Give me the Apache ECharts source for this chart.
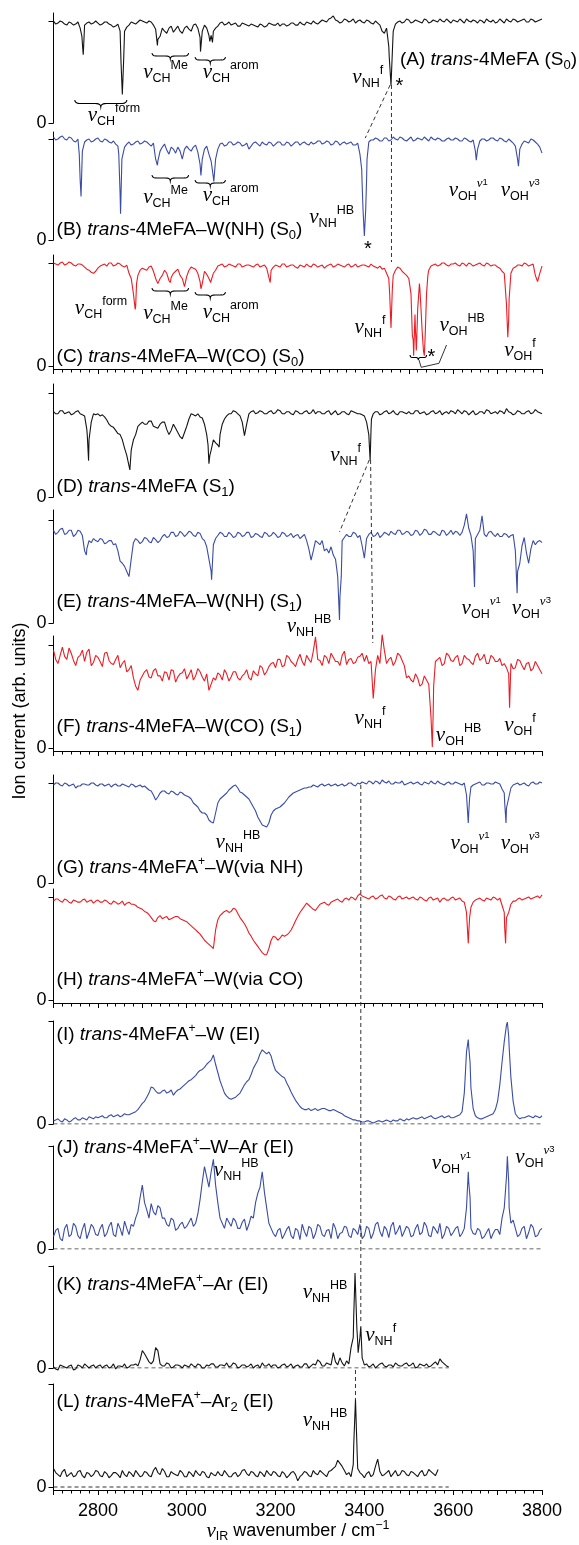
<!DOCTYPE html>
<html><head><meta charset="utf-8">
<script src="https://cdn.jsdelivr.net/npm/echarts@6/dist/echarts.min.js"></script>
<style>html,body{margin:0;padding:0;background:#fff}#c{width:579px;height:1545px}</style>
</head><body><div id="c"></div>
<script>
// ---------- data: *Sig at 2700 + i*10 cm-1, *Mid at 2705 + i*10 cm-1, *Extra = [wn, value] ----------
const WN0 = 2700, STEP = 10;
const xTickLabels = [2800, 3000, 3200, 3400, 3600, 3800];

const aSig = [1.0,0.98,0.99,0.96,0.98,0.97,0.93,0.96,0.99,0.98,
0.98,0.97,0.99,0.96,0.95,0.9,0.9,0.96,0.98,0.99,
1.0,0.98,0.99,0.92,0.85,0.9,0.93,0.89,0.95,0.88,
0.95,0.9,0.97,0.84,0.96,0.86,0.9,0.95,0.99,0.97,
0.96,0.98,0.95,0.97,0.95,0.96,0.94,0.96,0.95,0.97,
0.96,0.95,0.97,0.96,0.98,0.96,0.97,0.99,0.97,0.98,
0.99,1.0,1.02,1.05,1.0,0.99,1.01,1.0,0.98,1.01,
0.98,1.0,0.97,0.98,0.9,0.93,0.37,0.97,1.0,0.99,
1.01,0.99,1.0,0.98,1.01,0.99,1.0,1.02,0.99,1.0,
1.01,0.99,1.0,1.02,0.99,1.0,1.01,0.98,1.0,1.01,
0.99,1.0,1.02,0.99,1.01,1.0,1.02,0.99,1.01,1.0,
1.02];
const aMid = [0.97,1.0,0.97,0.99,0.96,0.99,0.78,0.98,0.97,1.0,
0.96,0.99,0.97,0.94,0.97,0.28,0.94,0.99,0.97,1.01,
0.99,1.0,0.96,0.82,0.93,0.88,0.95,0.92,0.9,0.93,
0.92,0.96,0.93,0.9,0.93,0.86,0.93,0.98,0.96,0.99,
0.97,0.95,0.98,0.96,0.97,0.95,0.97,0.94,0.98,0.96,
0.98,0.97,0.95,0.98,0.96,0.99,0.96,0.98,1.0,0.97,
1.01,0.99,1.03,1.01,0.98,1.02,0.99,1.02,1.0,0.99,
1.01,0.98,1.0,0.96,0.88,0.75,0.9,0.99,0.98,1.02,
0.98,1.01,0.99,1.02,0.98,1.01,0.99,1.0,1.02,0.98,
1.0,1.02,0.98,1.0,1.01,0.98,1.0,1.02,0.99,0.98,
1.02,0.98,1.0,1.02,0.99,1.01,0.99,1.02,0.99,1.01];
const aExtra = [[2764,0.85],[2767,0.67],[2769,0.86],[2852,0.6],[2855,0.28],[2858,0.62],[2934,0.76],[3031,0.7],[3052,0.8],[3058,0.79],[3456,0.65],[3464,0.8]];

const bSig = [1.02,1.0,1.03,0.99,1.01,0.97,0.6,0.97,1.0,0.98,
1.01,0.97,0.99,0.96,0.95,0.45,0.92,0.97,0.95,0.98,
0.96,0.97,0.93,0.8,0.88,0.95,0.85,0.9,0.92,0.8,
0.93,0.88,0.94,0.75,0.9,0.85,0.62,0.9,0.96,0.94,
0.97,0.95,0.96,0.94,0.9,0.96,0.95,0.97,0.94,0.96,
0.95,0.97,0.94,0.96,0.95,0.97,0.96,0.95,0.97,0.96,
0.98,0.96,0.97,0.95,0.97,0.96,0.95,0.97,0.94,0.85,
0.04,0.97,0.99,1.0,0.98,1.01,0.99,1.0,1.02,0.99,
1.0,0.98,1.01,0.99,1.0,1.02,0.99,1.0,0.98,1.01,
0.99,1.0,0.98,1.0,0.97,0.88,0.98,1.0,0.99,1.01,
0.98,1.0,0.97,0.98,0.93,0.9,0.98,0.96,0.99,0.95,
0.86];
const bMid = [0.99,1.02,1.0,1.02,0.98,1.0,0.88,0.99,0.97,1.0,
0.98,1.0,0.97,0.98,0.93,0.8,0.95,0.94,0.97,0.95,
0.98,0.95,0.96,0.78,0.92,0.89,0.92,0.86,0.88,0.9,
0.9,0.92,0.87,0.8,0.93,0.78,0.8,0.95,0.93,0.97,
0.94,0.97,0.93,0.96,0.93,0.97,0.93,0.95,0.97,0.93,
0.97,0.94,0.97,0.93,0.97,0.94,0.97,0.94,0.95,0.98,
0.95,0.98,0.94,0.98,0.94,0.97,0.96,0.94,0.96,0.55,
0.6,0.99,1.01,0.98,1.01,0.98,1.02,0.99,1.01,0.98,
1.02,0.99,1.0,1.02,0.98,1.0,1.01,0.98,1.0,0.99,
1.01,0.98,1.01,0.98,0.99,0.9,1.0,0.98,1.01,0.99,
1.01,0.98,1.0,0.96,0.8,0.95,0.97,1.0,0.97,0.92];
const bExtra = [[2758,0.85],[2762,0.43],[2765,0.88],[2847,0.85],[2851,0.26],[2854,0.8],[2934,0.74],[3032,0.64],[3061,0.58],[3394,0.7],[3397,0.3],[3403,0.3],[3406,0.8],[3652,0.79],[3747,0.73]];

const cSig = [1.0,0.98,1.01,0.99,1.0,0.97,0.99,0.96,0.93,0.9,
0.95,0.98,0.97,1.0,0.98,0.99,0.96,0.9,0.7,0.88,
0.95,0.93,0.97,0.85,0.85,0.93,0.83,0.9,0.94,0.85,
0.87,0.96,0.94,0.82,0.92,0.85,0.9,0.97,0.99,0.97,
0.98,0.96,0.99,0.97,0.98,0.96,0.99,0.97,0.95,0.93,
0.98,0.96,0.99,0.97,0.98,0.95,0.97,0.99,0.96,0.98,
0.97,0.95,0.98,0.96,0.99,0.97,0.98,0.96,0.99,0.97,
0.98,0.96,0.97,0.95,0.94,0.9,0.37,0.93,0.95,0.9,
0.85,0.25,0.55,0.35,0.7,0.97,0.99,0.98,1.0,0.97,
0.99,0.98,1.0,0.97,0.99,0.98,1.0,0.97,0.99,0.98,
0.96,0.92,0.6,0.9,0.96,0.98,1.0,0.97,0.99,0.82,
0.97];
const cMid = [0.99,1.0,0.98,1.01,0.98,0.99,0.98,0.94,0.91,0.92,
0.97,0.99,1.0,0.97,1.0,0.97,0.98,0.85,0.58,0.93,
0.94,0.96,0.92,0.8,0.88,0.9,0.86,0.92,0.88,0.77,
0.93,0.95,0.9,0.8,0.89,0.83,0.93,0.98,0.96,0.99,
0.97,0.99,0.96,0.98,0.97,0.98,0.96,0.98,0.86,0.96,
0.97,0.99,0.96,0.98,0.96,0.98,0.96,0.97,0.99,0.96,
0.98,0.97,0.99,0.97,0.98,0.96,0.99,0.97,0.96,0.98,
0.97,0.99,0.96,0.97,0.95,0.85,0.88,0.96,0.92,0.88,
0.7,0.35,0.75,0.1,0.93,0.98,0.97,1.0,0.98,0.99,
1.0,0.97,0.99,1.0,0.97,0.99,0.98,1.0,0.97,0.98,
0.95,0.9,0.45,0.95,0.98,0.97,0.99,0.98,0.88,0.9];
const cExtra = [[2884,0.55],[2887,0.8],[2937,0.79],[2963,0.81],[3032,0.75],[3054,0.81],[3188,0.81],[3457,0.7],[3463,0.75],[3508,0.3],[3511,0.1],[3514,0.5],[3517,0.15],[3519,0.4],[3524,0.8],[3527,0.6],[3533,0.15],[3537,0.3],[3543,0.88],[3723,0.28],[3726,0.65]];

const dSig = [0.82,0.8,0.83,0.81,0.79,0.82,0.8,0.78,0.55,0.8,
0.8,0.79,0.74,0.68,0.64,0.6,0.47,0.3,0.55,0.68,
0.72,0.7,0.73,0.67,0.7,0.72,0.6,0.7,0.62,0.56,
0.68,0.8,0.78,0.77,0.7,0.32,0.55,0.5,0.7,0.78,
0.8,0.82,0.78,0.59,0.8,0.83,0.81,0.82,0.8,0.83,
0.81,0.83,0.8,0.82,0.79,0.82,0.8,0.83,0.81,0.8,
0.82,0.8,0.83,0.81,0.79,0.82,0.8,0.83,0.81,0.8,
0.78,0.6,0.8,0.82,0.8,0.83,0.81,0.8,0.82,0.81,
0.82,0.8,0.83,0.81,0.79,0.82,0.8,0.83,0.81,0.8,
0.82,0.84,0.8,0.82,0.81,0.79,0.82,0.8,0.83,0.81,
0.8,0.82,0.85,0.81,0.8,0.82,0.8,0.83,0.81,0.82,
0.8];
const dMid = [0.8,0.83,0.8,0.82,0.8,0.83,0.79,0.65,0.72,0.79,
0.78,0.77,0.7,0.67,0.61,0.55,0.4,0.45,0.6,0.7,
0.7,0.73,0.68,0.66,0.72,0.65,0.64,0.66,0.58,0.62,
0.75,0.79,0.8,0.76,0.6,0.45,0.52,0.6,0.75,0.8,
0.83,0.8,0.72,0.7,0.82,0.8,0.83,0.8,0.82,0.8,
0.84,0.8,0.82,0.8,0.83,0.8,0.82,0.8,0.84,0.82,
0.8,0.82,0.79,0.83,0.8,0.82,0.79,0.82,0.8,0.79,
0.72,0.65,0.82,0.79,0.82,0.8,0.83,0.79,0.82,0.8,
0.8,0.83,0.8,0.82,0.8,0.83,0.81,0.79,0.82,0.83,
0.8,0.82,0.83,0.79,0.83,0.8,0.82,0.84,0.8,0.82,
0.83,0.8,0.82,0.79,0.83,0.8,0.82,0.8,0.84,0.81];
const dExtra = [[2776,0.6],[2779,0.35],[2872,0.26],[3048,0.5],[3052,0.4],[3073,0.48],[3413,0.35],[3416,0.75]];

const eSig = [0.9,0.88,0.92,0.87,0.9,0.86,0.89,0.7,0.8,0.82,
0.79,0.81,0.78,0.8,0.77,0.6,0.55,0.45,0.78,0.8,
0.79,0.82,0.78,0.81,0.8,0.86,0.84,0.88,0.85,0.87,
0.86,0.88,0.84,0.87,0.8,0.62,0.76,0.85,0.87,0.84,
0.86,0.84,0.87,0.85,0.88,0.84,0.86,0.83,0.87,0.85,
0.86,0.84,0.87,0.85,0.83,0.86,0.84,0.8,0.61,0.8,
0.76,0.7,0.68,0.66,0.45,0.8,0.86,0.84,0.87,0.85,
0.63,0.86,0.84,0.88,0.85,0.87,0.89,0.86,0.9,0.87,
0.88,0.86,0.89,0.87,0.9,0.86,0.88,0.85,0.89,0.87,
0.86,0.88,0.88,1.06,0.85,0.82,0.9,0.86,0.88,0.86,
0.87,0.84,0.86,0.85,0.7,0.58,0.83,0.58,0.8,0.79,
0.78];
const eMid = [0.86,0.91,0.86,0.9,0.84,0.9,0.85,0.72,0.78,0.8,
0.82,0.77,0.8,0.76,0.7,0.58,0.5,0.62,0.82,0.77,
0.83,0.79,0.83,0.78,0.84,0.83,0.88,0.84,0.89,0.84,
0.89,0.85,0.88,0.82,0.74,0.5,0.82,0.88,0.84,0.88,
0.83,0.88,0.84,0.88,0.83,0.87,0.84,0.88,0.84,0.88,
0.83,0.88,0.84,0.87,0.85,0.82,0.86,0.72,0.7,0.78,
0.8,0.72,0.74,0.62,0.25,0.83,0.84,0.88,0.83,0.75,
0.82,0.88,0.85,0.83,0.88,0.85,0.87,0.9,0.86,0.89,
0.85,0.9,0.85,0.91,0.86,0.89,0.86,0.9,0.85,0.9,
0.89,0.85,0.95,0.92,0.7,0.86,1.04,0.84,0.89,0.84,
0.84,0.87,0.83,0.86,0.5,0.75,0.68,0.72,0.76,0.8];
const eExtra = [[2774,0.66],[3056,0.42],[3344,0.03],[3348,0.45],[3648,0.35],[3744,0.29]];

const fSig = [0.95,0.82,0.98,0.86,0.92,0.8,0.9,0.84,0.96,0.83,
0.88,0.79,0.93,0.82,0.86,0.78,0.85,0.76,0.68,0.56,
0.7,0.76,0.68,0.77,0.7,0.74,0.66,0.75,0.69,0.73,
0.67,0.76,0.7,0.74,0.65,0.56,0.68,0.73,0.66,0.72,
0.69,0.74,0.66,0.72,0.68,0.75,0.7,0.78,0.74,0.82,
0.78,0.86,0.8,0.88,0.82,0.86,0.84,0.9,0.83,1.08,
0.85,0.9,0.82,0.88,0.84,0.9,0.81,0.87,0.83,0.89,
0.84,0.82,0.48,0.9,1.1,0.82,0.88,0.84,0.9,0.8,
0.7,0.64,0.68,0.62,0.66,0.3,0.84,0.88,0.82,0.9,
0.84,0.9,0.82,0.87,0.83,0.89,0.85,0.91,0.82,0.88,
0.84,0.8,0.78,0.82,0.78,0.85,0.76,0.83,0.77,0.8,
0.72];
const fMid = [0.86,0.9,0.89,0.97,0.85,0.88,0.95,0.93,0.8,0.9,
0.84,0.92,0.85,0.81,0.9,0.82,0.74,0.8,0.6,0.66,
0.74,0.69,0.75,0.7,0.65,0.73,0.76,0.64,0.72,0.77,
0.71,0.66,0.77,0.69,0.72,0.62,0.66,0.71,0.76,0.65,
0.74,0.68,0.7,0.76,0.66,0.72,0.8,0.71,0.79,0.83,
0.86,0.79,0.9,0.84,0.79,0.91,0.8,0.86,0.94,0.86,
0.8,0.88,0.92,0.84,0.8,0.94,0.86,0.82,0.88,0.92,
0.9,0.84,0.76,0.82,0.95,0.86,0.8,0.92,0.85,0.68,
0.66,0.72,0.6,0.7,0.62,0.35,0.86,0.8,0.92,0.85,
0.88,0.8,0.9,0.86,0.81,0.92,0.87,0.82,0.9,0.84,
0.87,0.82,0.72,0.77,0.86,0.8,0.82,0.75,0.84,0.76];
const fExtra = [[3553,0.01],[3556,0.6],[3727,0.39]];

const gSig = [0.98,1.0,0.97,0.99,0.98,0.95,0.97,0.99,0.98,1.0,
0.97,0.99,0.98,0.96,0.99,0.97,0.98,0.96,0.98,0.97,
0.96,0.95,0.92,0.83,0.9,0.92,0.89,0.91,0.88,0.9,
0.87,0.84,0.78,0.72,0.7,0.63,0.6,0.8,0.86,0.9,
0.95,0.98,0.91,0.88,0.84,0.76,0.66,0.58,0.56,0.68,
0.74,0.76,0.8,0.86,0.9,0.92,0.94,0.95,0.96,0.97,
0.98,0.97,0.99,0.98,0.97,0.99,0.98,1.0,0.97,0.99,
1.0,1.02,0.99,1.01,1.03,1.0,0.99,1.01,1.0,0.98,
1.0,0.99,1.01,0.98,1.0,1.02,0.99,1.0,0.98,1.01,
0.99,1.0,0.98,0.88,0.96,0.99,1.01,0.98,1.0,0.99,
1.0,0.94,0.75,0.95,0.99,0.98,1.0,0.97,1.01,0.99,
1.0];
const gMid = [1.0,0.98,1.0,0.97,0.99,0.97,0.99,0.98,1.0,0.98,
0.99,0.97,0.99,0.98,0.97,0.99,0.97,0.99,0.96,0.98,
0.97,0.93,0.88,0.86,0.92,0.9,0.92,0.89,0.91,0.88,
0.86,0.8,0.76,0.7,0.68,0.61,0.7,0.84,0.88,0.93,
0.97,0.95,0.9,0.86,0.8,0.72,0.62,0.57,0.6,0.72,
0.75,0.78,0.83,0.88,0.91,0.93,0.95,0.96,0.98,0.96,
0.99,0.98,0.97,0.99,0.98,0.97,1.0,0.98,1.0,1.01,
0.99,1.01,1.02,0.99,1.01,1.02,0.99,1.0,1.02,0.99,
1.01,1.0,0.99,1.01,0.99,1.0,1.02,0.99,1.0,0.99,
1.01,0.99,1.0,0.7,0.98,1.0,0.98,1.0,0.99,1.01,
0.99,0.9,0.85,0.98,1.0,0.99,0.98,1.0,0.99,1.01];
const gExtra = [[3634,0.6],[3637,0.85],[3716,0.8],[3719,0.6]];

const hSig = [0.96,0.98,0.95,0.97,0.94,0.96,0.95,0.98,0.96,0.94,
0.97,0.95,0.96,0.93,0.95,0.94,0.92,0.95,0.93,0.9,
0.88,0.85,0.8,0.76,0.82,0.8,0.78,0.8,0.81,0.78,
0.76,0.72,0.68,0.64,0.58,0.54,0.5,0.78,0.84,0.87,
0.86,0.88,0.8,0.74,0.65,0.58,0.52,0.46,0.44,0.58,
0.61,0.6,0.62,0.65,0.72,0.81,0.88,0.94,0.9,0.87,
0.93,0.95,0.92,0.96,0.98,0.95,0.99,1.0,0.97,1.03,
1.0,0.98,1.01,0.99,1.02,0.98,1.0,0.97,1.01,0.99,
0.98,1.0,0.97,0.99,0.96,1.0,0.98,0.95,0.99,0.97,
1.0,0.98,0.96,0.85,0.9,0.97,0.99,0.96,0.98,1.0,
0.97,0.92,0.8,0.93,0.96,0.99,0.98,1.0,0.99,1.01,
1.02];
const hMid = [0.98,0.96,0.98,0.95,0.97,0.95,0.97,0.95,0.97,0.96,
0.95,0.97,0.94,0.96,0.93,0.96,0.94,0.93,0.92,0.89,
0.86,0.83,0.77,0.8,0.79,0.81,0.79,0.81,0.79,0.77,
0.74,0.7,0.66,0.61,0.56,0.52,0.68,0.82,0.86,0.85,
0.89,0.84,0.77,0.7,0.62,0.55,0.49,0.44,0.5,0.62,
0.58,0.63,0.63,0.68,0.77,0.85,0.91,0.92,0.88,0.9,
0.94,0.93,0.95,0.97,0.96,0.98,0.97,0.99,1.01,1.01,
0.99,1.0,0.98,1.01,0.99,1.01,0.98,1.0,0.98,1.0,
0.99,0.98,1.0,0.97,0.99,0.97,0.99,0.98,0.97,0.99,
0.97,0.99,0.95,0.65,0.95,0.98,0.97,0.99,0.97,0.99,
0.99,0.85,0.85,0.96,0.98,0.97,0.99,0.98,1.0,0.99];
const hExtra = [[3634,0.55],[3637,0.8],[3716,0.7],[3718,0.55]];

const iSig = [0.03,0.05,0.02,0.04,0.03,0.06,0.04,0.05,0.07,0.05,
0.06,0.08,0.06,0.09,0.08,0.07,0.1,0.09,0.11,0.14,
0.2,0.26,0.36,0.32,0.3,0.33,0.31,0.28,0.33,0.36,
0.4,0.43,0.47,0.52,0.55,0.6,0.67,0.5,0.36,0.27,
0.24,0.26,0.3,0.38,0.43,0.54,0.62,0.72,0.68,0.66,
0.52,0.48,0.45,0.36,0.27,0.2,0.15,0.14,0.13,0.15,
0.14,0.15,0.13,0.14,0.12,0.1,0.07,0.05,0.04,0.03,
0.02,0.03,0.01,0.03,0.02,0.04,0.02,0.03,0.05,0.03,
0.04,0.06,0.05,0.07,0.06,0.08,0.05,0.07,0.06,0.08,
0.06,0.08,0.12,0.7,0.35,0.08,0.05,0.06,0.08,0.1,
0.22,0.6,0.96,0.45,0.1,0.05,0.06,0.08,0.06,0.07,
0.08];
const iMid = [0.04,0.03,0.05,0.02,0.05,0.04,0.06,0.04,0.06,0.07,
0.07,0.06,0.08,0.07,0.09,0.08,0.09,0.1,0.12,0.17,
0.22,0.3,0.35,0.3,0.32,0.3,0.33,0.31,0.34,0.38,
0.42,0.45,0.5,0.53,0.58,0.62,0.58,0.42,0.3,0.25,
0.25,0.28,0.34,0.41,0.48,0.58,0.68,0.7,0.7,0.58,
0.5,0.46,0.4,0.31,0.23,0.17,0.14,0.15,0.14,0.13,
0.15,0.14,0.13,0.13,0.11,0.08,0.06,0.04,0.03,0.02,
0.03,0.02,0.02,0.03,0.03,0.03,0.04,0.03,0.04,0.05,
0.05,0.05,0.06,0.05,0.07,0.06,0.06,0.08,0.07,0.06,
0.07,0.09,0.3,0.75,0.15,0.06,0.05,0.07,0.09,0.14,
0.38,0.8,0.85,0.22,0.07,0.06,0.07,0.07,0.08,0.06];
const iExtra = [[3627,0.45],[3634,0.82],[3638,0.6],[3722,0.99],[3726,0.75]];

const jSig = [0.12,0.2,0.08,0.24,0.14,0.22,0.1,0.25,0.16,0.21,
0.13,0.24,0.15,0.26,0.12,0.2,0.27,0.14,0.22,0.36,
0.62,0.38,0.44,0.33,0.4,0.3,0.22,0.28,0.2,0.26,
0.22,0.3,0.25,0.48,0.8,0.6,0.87,0.45,0.25,0.3,
0.22,0.27,0.2,0.29,0.24,0.3,0.54,0.75,0.4,0.2,
0.12,0.2,0.14,0.22,0.1,0.18,0.24,0.12,0.2,0.15,
0.22,0.12,0.19,0.25,0.1,0.16,0.21,0.11,0.18,0.24,
0.13,0.2,0.15,0.26,0.12,0.19,0.22,0.14,0.23,0.17,
0.2,0.13,0.24,0.16,0.22,0.12,0.19,0.25,0.14,0.2,
0.16,0.22,0.15,0.4,0.2,0.14,0.18,0.12,0.2,0.15,
0.19,0.3,0.7,0.25,0.2,0.14,0.22,0.16,0.21,0.13,
0.2];
const jMid = [0.18,0.1,0.2,0.12,0.25,0.13,0.19,0.1,0.24,0.14,
0.2,0.12,0.22,0.14,0.25,0.13,0.2,0.24,0.3,0.5,
0.45,0.3,0.36,0.42,0.3,0.24,0.3,0.18,0.24,0.2,
0.26,0.22,0.34,0.65,0.7,0.75,0.62,0.3,0.2,0.26,
0.3,0.2,0.26,0.18,0.32,0.45,0.6,0.55,0.25,0.15,
0.18,0.1,0.19,0.13,0.2,0.09,0.17,0.22,0.1,0.24,
0.14,0.18,0.1,0.2,0.15,0.22,0.13,0.2,0.14,0.1,
0.22,0.1,0.24,0.17,0.22,0.11,0.26,0.18,0.12,0.22,
0.12,0.2,0.14,0.26,0.13,0.22,0.15,0.1,0.22,0.13,
0.2,0.12,0.2,0.65,0.15,0.2,0.1,0.16,0.1,0.19,
0.14,0.4,0.65,0.28,0.12,0.2,0.1,0.24,0.12,0.18];
const jExtra = [[3634,0.75],[3638,0.5],[3722,0.9],[3726,0.4]];

const kSig = [0.01,-0.02,0.02,0.0,0.03,-0.01,0.02,0.04,0.0,0.03,
0.02,0.0,0.03,0.01,-0.01,0.02,0.04,0.01,0.03,0.02,
0.17,0.1,0.04,0.2,0.04,0.02,0.04,0.01,0.03,0.0,
0.02,0.04,0.01,0.03,0.0,0.02,0.04,0.01,0.03,0.05,
0.02,0.04,0.01,0.03,0.02,0.0,0.03,0.05,0.02,0.01,
0.03,0.01,0.04,0.02,0.0,0.03,0.01,0.04,0.02,0.03,
0.06,0.02,0.04,0.15,0.03,0.05,0.07,0.2,0.8,0.3,
0.03,0.01,0.04,0.02,0.05,0.01,0.03,0.05,0.02,0.04,
0.02,0.05,0.01,0.03,0.04,0.02,0.06,0.09,0.04,0.01];
const kMid = [-0.01,0.03,0.01,0.02,-0.02,0.03,0.0,0.02,0.02,0.0,
0.03,0.02,0.0,0.04,0.02,0.01,0.0,0.03,0.04,0.08,
0.14,0.06,0.07,0.17,0.02,0.05,0.0,0.03,0.02,0.03,
0.01,0.02,0.04,0.0,0.03,0.04,0.01,0.03,0.02,0.01,
0.05,0.0,0.03,0.01,0.04,0.02,0.0,0.02,0.04,0.03,
0.0,0.03,0.01,0.04,0.02,0.01,0.04,0.0,0.04,0.08,
0.02,0.05,0.03,0.06,0.1,0.02,0.04,0.3,0.25,0.1,
0.04,0.02,0.0,0.04,0.02,0.03,0.01,0.03,0.02,0.05,
0.03,0.0,0.04,0.02,0.01,0.04,0.03,0.06,0.02];
const kExtra = [[3376,0.5],[3379,0.93],[3383,0.4],[3386,0.15],[3392,0.41]];

const lSig = [0.18,0.12,0.15,0.1,0.14,0.11,0.16,0.09,0.13,0.12,
0.15,0.1,0.13,0.11,0.14,0.09,0.12,0.15,0.1,0.13,
0.11,0.14,0.1,0.19,0.12,0.15,0.1,0.13,0.11,0.14,
0.1,0.13,0.16,0.11,0.14,0.09,0.12,0.15,0.11,0.13,
0.1,0.14,0.12,0.17,0.11,0.14,0.1,0.13,0.16,0.11,
0.14,0.1,0.13,0.11,0.15,0.06,0.12,0.14,0.1,0.13,
0.16,0.12,0.15,0.18,0.26,0.2,0.12,0.1,0.85,0.14,
0.09,0.15,0.12,0.27,0.11,0.14,0.1,0.16,0.12,0.15,
0.11,0.14,0.1,0.16,0.12,0.15,0.11];
const lMid = [0.14,0.1,0.17,0.12,0.1,0.15,0.11,0.14,0.1,0.16,
0.11,0.15,0.09,0.14,0.12,0.16,0.1,0.13,0.16,0.1,
0.15,0.11,0.16,0.14,0.18,0.1,0.15,0.12,0.16,0.1,
0.15,0.1,0.13,0.15,0.1,0.14,0.11,0.12,0.16,0.1,
0.13,0.1,0.16,0.13,0.15,0.11,0.15,0.1,0.13,0.15,
0.11,0.15,0.09,0.14,0.12,0.1,0.15,0.11,0.16,0.12,
0.14,0.1,0.16,0.2,0.23,0.16,0.14,0.22,0.18,0.12,
0.13,0.1,0.2,0.15,0.12,0.16,0.13,0.11,0.16,0.12,
0.15,0.12,0.14,0.11,0.17,0.13];
const lExtra = [[3376,0.4],[3384,0.3],[3566,0.17]];

// dashed zero reference lines [panel, start, end]
const zeroDash = [[8,2700,3800],[9,2700,3800],[10,2700,3590],[11,2700,3590]];

// ---------- layout (pixels) ----------
const layout = [
 {top:13, tick:21, zero:123},
 {top:132, tick:139, zero:240},
 {top:255, tick:263, zero:366, axis:369},
 {top:384, tick:393, zero:497},
 {top:510, tick:520, zero:623},
 {top:636, tick:645, zero:748, axis:751},
 {top:775, tick:783, zero:883},
 {top:889, tick:897, zero:1000, axis:1003},
 {top:1021, tick:1021, zero:1124},
 {top:1146, tick:1146, zero:1249},
 {top:1266, tick:1266, zero:1368},
 {top:1384, tick:1384, zero:1487, axis:1490}
];
const K = '#141414', B = '#3a4ca6', Rd = '#ec1c24';
const panels = [
 [aSig,aMid,aExtra,K],[bSig,bMid,bExtra,B],[cSig,cMid,cExtra,Rd],[dSig,dMid,dExtra,K],
 [eSig,eMid,eExtra,B],[fSig,fMid,fExtra,Rd],[gSig,gMid,gExtra,B],[hSig,hMid,hExtra,Rd],
 [iSig,iMid,iExtra,B],[jSig,jMid,jExtra,B],[kSig,kMid,kExtra,K],[lSig,lMid,lExtra,K]
];
const FF = '"Liberation Sans", Arial, sans-serif';
function build(vals, mids, extra){
  return vals.map((v,i)=>[WN0+i*STEP, v])
    .concat(mids.map((v,i)=>[WN0+STEP/2+i*STEP, v]))
    .concat(extra).sort((a,b)=>a[0]-b[0]);
}

const grids=[], xAxes=[], yAxes=[], series=[];
layout.forEach((l,i)=>{
  const unit = l.zero - l.tick > 0 ? l.zero - l.tick : l.zero - l.top;
  const bottomPx = l.axis || l.zero;
  grids.push({left:53.5, right:37, top:l.top, height:bottomPx-l.top});
  const hasAxis = !!l.axis;
  xAxes.push({type:'value', gridIndex:i, min:2700, max:3800, interval:100, show:hasAxis,
    axisLine:{show:true, onZero:false, lineStyle:{color:'#000', width:1}},
    axisTick:{show:true, length:5, lineStyle:{color:'#000', width:1}},
    minorTick:{show:true, splitNumber:5, length:3.5, lineStyle:{color:'#000', width:1}},
    splitLine:{show:false},
    axisLabel:{show:i===11, fontSize:18, color:'#000', fontFamily:FF, margin:12,
      formatter:v=> xTickLabels.indexOf(v)>=0 ? String(v) : ''}
  });
  yAxes.push({type:'value', gridIndex:i, min: hasAxis ? -(l.axis-l.zero)/unit : 0,
    max:(l.zero-l.top)/unit,
    axisLine:{show:true, onZero:false, lineStyle:{color:'#000', width:1}},
    axisTick:{show:true, length:5, customValues:[0,1], lineStyle:{color:'#000', width:1}},
    axisLabel:{show:true, customValues:[0], fontSize:18, color:'#000', fontFamily:FF, margin:7, formatter:'{value}'},
    splitLine:{show:false}
  });
  const p = panels[i];
  series.push({type:'line', xAxisIndex:i, yAxisIndex:i, data:build(p[0],p[1],p[2]), symbol:'none',
    lineStyle:{color:p[3], width:1.1}, clip:false, z:3});
});
zeroDash.forEach(([p,s,e])=>{
  series.push({type:'line', xAxisIndex:p, yAxisIndex:p, data:[[s,0],[e,0]], symbol:'none',
    lineStyle:{color:'#333', width:1, type:[4,3]}, z:2});
});

const chart = echarts.init(document.getElementById('c'));
chart.setOption({animation:false, backgroundColor:'#fff', grid:grids, xAxis:xAxes, yAxis:yAxes, series:series});

// ---------- annotations ----------
const RICH = {
  t:{fontSize:19, fontFamily:FF, lineHeight:24, verticalAlign:'middle', color:'#000'},
  it:{fontSize:19, fontFamily:FF, fontStyle:'italic', lineHeight:24, verticalAlign:'middle', color:'#000'},
  sub:{fontSize:13, fontFamily:FF, lineHeight:13, verticalAlign:'bottom', color:'#000'},
  sup:{fontSize:12, fontFamily:FF, lineHeight:12, verticalAlign:'top', color:'#000'},
  nu:{fontSize:21, fontFamily:'"Liberation Serif", serif', fontStyle:'italic', lineHeight:26, verticalAlign:'middle', color:'#000'},
  ls:{fontSize:12.5, fontFamily:FF, lineHeight:12, verticalAlign:'bottom', color:'#000'},
  lp:{fontSize:12.5, fontFamily:FF, lineHeight:12, verticalAlign:'top', color:'#000'},
  lpn:{fontSize:13, fontFamily:'"Liberation Serif", serif', fontStyle:'italic', lineHeight:13, verticalAlign:'top', color:'#000'},
  lpd:{fontSize:9.5, fontFamily:FF, lineHeight:17, verticalAlign:'top', color:'#000'},
  ast:{fontSize:20, fontFamily:FF, lineHeight:22, verticalAlign:'middle', color:'#000'},
  ax:{fontSize:18, fontFamily:FF, lineHeight:24, verticalAlign:'middle', color:'#000'},
  axnu:{fontSize:21, fontFamily:'"Liberation Serif", serif', fontStyle:'italic', lineHeight:24, verticalAlign:'middle', color:'#000'},
  axsub:{fontSize:12.5, fontFamily:FF, lineHeight:12, verticalAlign:'bottom', color:'#000'},
  axsup:{fontSize:12.5, fontFamily:FF, lineHeight:12, verticalAlign:'top', color:'#000'}
};
const nuL = (s,p)=>`{nu|ν}{ls|${s}}{lp|${p}}`;
const nuV = (s,d)=>`{nu|ν}{ls|${s}}{lpn|ν}{lpd|${d}}`;
const T0 = (L,mid,st)=>`{t|(${L}) }{it|trans}{t|-4MeFA${mid} (S}{sub|${st}}{t|)}`;
const TP = (L,rest,sub,tail)=>`{t|(${L}) }{it|trans}{t|-4MeFA}{sup|+}{t|${rest}}`+(sub?`{sub|${sub}}`:'')+(tail?`{t|${tail}}`:'');

const labels = [
 [0,2777,8,nuL('CH','form')],[0,2902,51,nuL('CH','Me')],[0,3036,51,nuL('CH','arom')],[0,3373,46,nuL('NH','f')],
 [0,3480,63,T0('A','','0')],
 [1,2902,43,nuL('CH','Me')],[1,3036,45,nuL('CH','arom')],[1,3276,23,nuL('NH','HB')],
 [1,3590,50,nuV('OH','1')],[1,3707,50,nuV('OH','3')],[1,2707,10,T0('B','–W(NH)','0')],
 [2,2748,58,nuL('CH','form')],[2,2902,53,nuL('CH','Me')],[2,3036,54,nuL('CH','arom')],[2,3378,39,nuL('NH','f')],
 [2,3569,41,nuL('OH','HB')],[2,3715,16,nuL('OH','f')],[2,2707,9,T0('C','–W(CO)','0')],
 [3,3323,42,nuL('NH','f')],[3,2707,10,T0('D','','1')],
 [4,2707,21,T0('E','–W(NH)','1')],[4,3225,-3,nuL('NH','HB')],[4,3619,15,nuV('OH','1')],[4,3732,15,nuV('OH','3')],
 [5,3378,30,nuL('NH','f')],[5,3561,13,nuL('OH','HB')],[5,3715,23,nuL('OH','f')],[5,2707,21,T0('F','–W(CO)','1')],
 [6,3065,41,nuL('NH','HB')],[6,3594,40,nuV('OH','1')],[6,3707,40,nuV('OH','3')],[6,2707,15,TP('G','–W(via NH)')],
 [7,2707,20,TP('H','–W(via CO)')],
 [8,2707,89,TP('I','–W (EI)')],
 [9,2707,101,TP('J','–W–Ar (EI)')],[9,3061,79,nuL('NH','HB')],[9,3552,86,nuV('OH','1')],[9,3740,92,nuV('OH','3')],
 [10,2707,83,TP('K','–Ar (EI)')],[10,3261,76,nuL('NH','HB')],[10,3402,33,nuL('NH','f')],
 [11,2707,85,TP('L','–Ar','2',' (EI)')],[11,3261,67,nuL('NH','HB')]
];
const stars = [[0,3479,41],[1,3408,-5],[2,3551,13]];
const braces = [[0,2748,2865,23,7],[0,2922,3004,70,6],[0,3019,3087,66,6],[1,2922,3004,65,6],[1,3019,3087,60,6],
 [2,2922,3004,78,6],[2,3019,3087,74,6],[2,3503,3540,11,5]];
const guides = [
 {pts:[[0,3461,38],[1,3461,-22]], dash:true},
 {pts:[[0,3458,38],[1,3402,102]], dash:true},
 {pts:[[3,3414,37],[5,3419,105]], dash:true},
 {pts:[[3,3411,37],[4,3344,91]], dash:true},
 {pts:[[6,3392,98],[10,3392,45]], dash:true},
 {pts:[[10,3380,-2],[11,3380,87]], dash:true},
 {pts:[[2,3523,6],[2,3528,-1.3],[2,3568,2.7],[2,3585,21]], dash:false}
];

function P(p,wn,dy){ const q = chart.convertToPixel({gridIndex:p},[wn,0]); return [q[0], q[1]-dy]; }
function quad(a,c,b,out){
  for(let s=1;s<=6;s++){ const t=s/6, u=1-t;
    out.push([u*u*a[0]+2*u*t*c[0]+t*t*b[0], u*u*a[1]+2*u*t*c[1]+t*t*b[1]]); }
}
function bracePts(x1,x2,y,h){
  const xm=(x1+x2)/2, r=h/2, k=Math.min(r*1.6,(x2-x1)/6);
  const pts=[[x1,y]];
  quad([x1,y],[x1,y+r],[x1+k,y+r],pts);
  pts.push([xm-k,y+r]);
  quad([xm-k,y+r],[xm,y+r],[xm,y+h],pts);
  quad([xm,y+h],[xm,y+r],[xm+k,y+r],pts);
  pts.push([x2-k,y+r]);
  quad([x2-k,y+r],[x2,y+r],[x2,y],pts);
  return pts;
}
const G = [];
labels.forEach(([p,wn,dy,txt])=>{
  const [x,y]=P(p,wn,dy);
  G.push({type:'text', x:x, y:y, z:20, style:{text:txt, rich:RICH, align:'left', verticalAlign:'middle', fill:'#000'}});
});
stars.forEach(([p,wn,dy])=>{
  const [x,y]=P(p,wn,dy);
  G.push({type:'text', x:x, y:y+4, z:20, style:{text:'{ast|*}', rich:RICH, align:'center', verticalAlign:'middle'}});
});
braces.forEach(([p,w1,w2,dy,h])=>{
  const [x1,y]=P(p,w1,dy); const [x2]=P(p,w2,dy);
  G.push({type:'polyline', z:20, shape:{points:bracePts(x1,x2,y,h)}, style:{fill:null, stroke:'#000', lineWidth:1.1}});
});
guides.forEach(g=>{
  const pts = g.pts.map(([p,wn,dy])=>P(p,wn,dy));
  G.push({type:'polyline', z:19, shape:{points:pts}, style:{fill:null, stroke:'#333', lineWidth:1, lineDash:g.dash?[4,3]:null}});
});
G.push({type:'text', x:20, y:711, rotation:Math.PI/2, z:20,
  style:{text:'Ion current (arb. units)', fontSize:18, fontFamily:FF, fill:'#000', align:'center', verticalAlign:'middle'}});
G.push({type:'text', x:298, y:1531, z:20,
  style:{text:'{axnu|ν}{axsub|IR}{ax| wavenumber / cm}{axsup|−1}', rich:RICH, align:'center', verticalAlign:'middle'}});
chart.setOption({graphic:{elements:G}});
</script>
</body></html>
